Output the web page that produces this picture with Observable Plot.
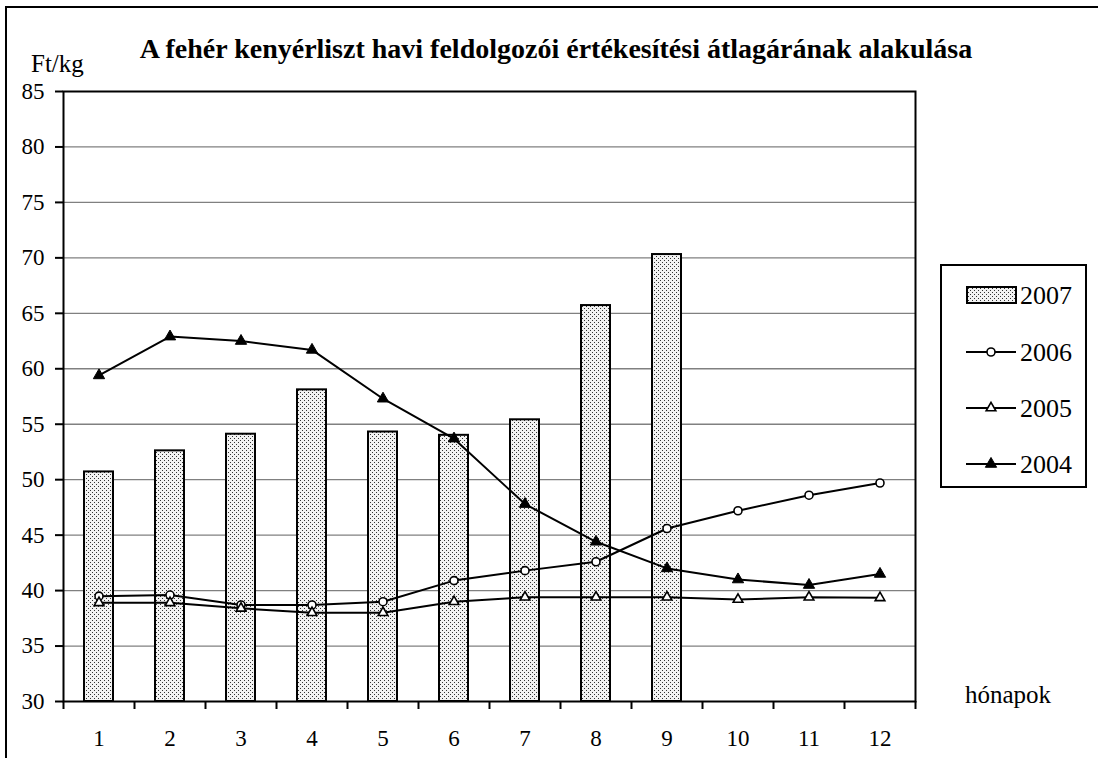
<!DOCTYPE html>
<html>
<head>
<meta charset="utf-8">
<script src="https://cdn.jsdelivr.net/npm/d3@7"></script>
<script src="https://cdn.jsdelivr.net/npm/@observablehq/plot@0.6"></script>
<style>
  html, body { margin: 0; padding: 0; background: white; }
  svg { display: block; }
</style>
</head>
<body>
<div id="chart"></div>
<script>
const months = [1, 2, 3, 4, 5, 6, 7, 8, 9, 10, 11, 12];
const v2007 = [50.7, 52.6, 54.1, 58.1, 54.3, 54.0, 55.4, 65.7, 70.3];
const v2006 = [39.5, 39.6, 38.7, 38.7, 39.0, 40.9, 41.8, 42.6, 45.6, 47.2, 48.6, 49.7];
const v2005 = [38.9, 38.9, 38.4, 38.0, 38.0, 39.0, 39.4, 39.4, 39.4, 39.2, 39.4, 39.35];
const v2004 = [59.4, 62.9, 62.5, 61.7, 57.3, 53.7, 47.8, 44.4, 42.0, 41.0, 40.5, 41.5];
const yTicks = [30, 35, 40, 45, 50, 55, 60, 65, 70, 75, 80, 85];
const gridValues = [35, 40, 45, 50, 55, 60, 65, 70, 75, 80];
const seriesNames = ["2007", "2006", "2005", "2004"];
const titleText = "A fehér kenyérliszt havi feldolgozói értékesítési átlagárának alakulása";
const yUnit = "Ft/kg";
const xName = "hónapok";

const bars = v2007.map((v, i) => ({m: months[i], v}));
const toRows = (arr) => arr.map((v, i) => ({m: months[i], v}));
const d2006 = toRows(v2006), d2005 = toRows(v2005), d2004 = toRows(v2004);
const boundaries = d3.range(0.5, 13, 1);

const W = 1098, H = 758;
const FONT = "'Liberation Serif', 'Times New Roman', serif";
const chart = Plot.plot({
  width: W,
  height: H,
  marginLeft: 63,
  marginRight: 183,
  marginTop: 91,
  marginBottom: 57,
  style: {fontFamily: FONT, fontSize: "23px", color: "black", background: "white", overflow: "visible"},
  x: {type: "linear", domain: [0.5, 12.5]},
  y: {domain: [30, 85]},
  marks: [
    Plot.ruleY(gridValues, {stroke: "#808080", strokeWidth: 1.3}),
    Plot.rectY(bars, {x1: d => d.m - 0.5, x2: d => d.m + 0.5, y1: () => 30, y2: "v", insetLeft: 21, insetRight: 21, fill: "url(#dots)", stroke: "black", strokeWidth: 2}),
    Plot.line(d2006, {x: "m", y: "v", stroke: "black", strokeWidth: 2}),
    Plot.line(d2005, {x: "m", y: "v", stroke: "black", strokeWidth: 2}),
    Plot.line(d2004, {x: "m", y: "v", stroke: "black", strokeWidth: 2}),
    Plot.dot(d2006, {x: "m", y: "v", symbol: "circle", r: 4, fill: "white", stroke: "black", strokeWidth: 1.6}),
    Plot.dot(d2005, {x: "m", y: "v", symbol: "triangle", r: 3.6, fill: "white", stroke: "black", strokeWidth: 1.6}),
    Plot.dot(d2004, {x: "m", y: "v", symbol: "triangle", r: 4.2, fill: "black", stroke: "black", strokeWidth: 1}),
    Plot.frame({stroke: "black", strokeWidth: 2}),
    Plot.axisY({ticks: yTicks, tickSize: 8, tickPadding: 11, tickFormat: d => String(d), fontSize: 23, strokeWidth: 2, label: null}),
    Plot.axisX({ticks: boundaries, tickSize: 8, tickFormat: () => "", strokeWidth: 2, label: null}),
    Plot.axisX({ticks: months, tickSize: 0, tickPadding: 28, tickFormat: d => String(d), fontSize: 23, label: null})
  ]
});

const svg = d3.select(chart);
// dotted fill pattern
const defs = svg.insert("defs", ":first-child");
const pat = defs.append("pattern").attr("id", "dots").attr("patternUnits", "userSpaceOnUse")
  .attr("width", 4).attr("height", 4);
pat.append("rect").attr("width", 4).attr("height", 4).attr("fill", "#f2f2f2");
pat.append("rect").attr("x", 0).attr("y", 0).attr("width", 1).attr("height", 1).attr("fill", "#333");
pat.append("rect").attr("x", 2).attr("y", 2).attr("width", 1).attr("height", 1).attr("fill", "#333");

// outer border
svg.append("rect").attr("x", 6).attr("y", 7).attr("width", W + 10).attr("height", H + 10)
  .attr("fill", "none").attr("stroke", "black").attr("stroke-width", 2);

// title
svg.append("text").attr("x", 556).attr("y", 58).attr("text-anchor", "middle")
  .attr("font-family", FONT).attr("font-weight", "bold").attr("font-size", 28)
  .text(titleText);
// unit
svg.append("text").attr("x", 31).attr("y", 72).attr("text-anchor", "start")
  .attr("font-family", FONT).attr("font-size", 25).text(yUnit);
// x name
svg.append("text").attr("x", 965).attr("y", 703).attr("text-anchor", "start")
  .attr("font-family", FONT).attr("font-size", 25).text(xName);

// legend
const lg = svg.append("g").attr("font-family", FONT).attr("font-size", 26).attr("text-anchor", "start");
lg.append("rect").attr("x", 941).attr("y", 265).attr("width", 145).attr("height", 222)
  .attr("fill", "white").attr("stroke", "black").attr("stroke-width", 2);
const rowsY = [295, 352, 408, 464];
seriesNames.forEach((name, i) => {
  const cy = rowsY[i];
  if (i === 0) {
    lg.append("rect").attr("x", 967).attr("y", cy - 8).attr("width", 49).attr("height", 16)
      .attr("fill", "url(#dots)").attr("stroke", "black").attr("stroke-width", 2);
  } else {
    lg.append("line").attr("x1", 966).attr("x2", 1016).attr("y1", cy).attr("y2", cy)
      .attr("stroke", "black").attr("stroke-width", 2);
    let sym, fill, sw, size;
    if (i === 1) { sym = d3.symbolCircle; fill = "white"; size = Math.PI * 16; sw = 1.6; }
    else if (i === 2) { sym = d3.symbolTriangle; fill = "white"; size = Math.PI * 3.6 * 3.6; sw = 1.6; }
    else { sym = d3.symbolTriangle; fill = "black"; size = Math.PI * 4.2 * 4.2; sw = 1; }
    lg.append("path").attr("d", d3.symbol(sym, size)()).attr("transform", `translate(991,${cy})`)
      .attr("fill", fill).attr("stroke", "black").attr("stroke-width", sw);
  }
  lg.append("text").attr("x", 1020).attr("y", cy + 9).text(name);
});

document.getElementById("chart").appendChild(chart);
</script>
</body>
</html>
